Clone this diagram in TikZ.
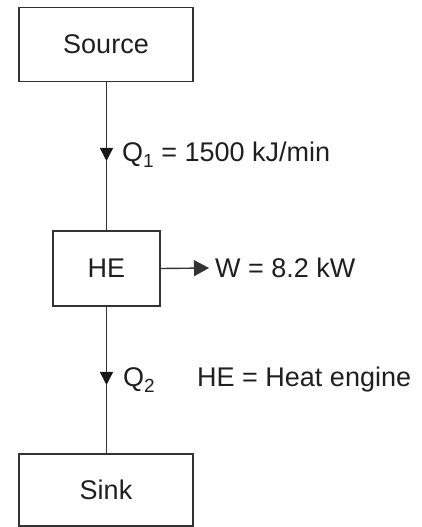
\documentclass[tikz,border=0pt]{standalone}
\usepackage{fontspec}
\setmainfont{Liberation Sans}
\usetikzlibrary{arrows.meta,decorations.markings}
\newcommand{\lowsub}[1]{\raisebox{-6pt}{\fontsize{19}{22}\selectfont #1}}
\begin{document}
\begin{tikzpicture}[x=1pt,y=-1pt,
  box/.style={draw=black!80, line width=1.4pt, inner sep=0pt, font=\fontsize{27}{31}\selectfont, text=black!88},
  lbl/.style={font=\fontsize{27}{31}\selectfont, text=black!88, inner sep=0pt},
  flow/.style={line width=1.4pt, draw=black!80},
  midtri/.style={postaction={decorate}, decoration={markings, mark=at position #1 with {\arrow[black!90]{Triangle[width=13pt,length=13pt]}}}}
]
\useasboundingbox (0,0) rectangle (421,527);
\node[box, minimum width=174pt, minimum height=74pt] (src) at (106,44.5) {Source};
\node[box, minimum width=107pt, minimum height=75pt] (he) at (106.5,268.5) {HE};
\node[box, minimum width=174pt, minimum height=72pt] (sink) at (106,490) {Sink};
\draw[flow, midtri=0.532] (src.south -| he.north) -- (he.north);
\draw[flow, midtri=0.534] (he.south) -- (sink.north -| he.south);
\node[lbl, anchor=base west] (q1) at (122,161) {Q\lowsub{1} = 1500 kJ/min};
\node[lbl, anchor=base west] (q2) at (123,386.5) {Q\lowsub{2}};
\node[lbl, anchor=base west] (def) at (197,386.5) {HE = Heat engine};
\node[lbl, anchor=west, inner xsep=6pt] (w) at (209,268) {W = 8.2 kW};
\draw[flow, -{Triangle[width=16pt,length=15pt]}] (he.east) -- (w.west);
\end{tikzpicture}
\end{document}
